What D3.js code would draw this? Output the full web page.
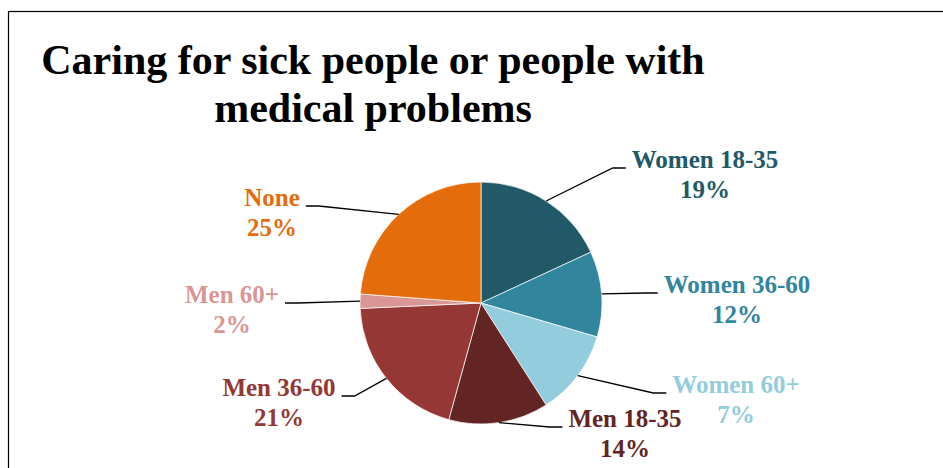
<!doctype HTML>
<html>
<head>
    <style>
        body { margin: 0; background: #fff; }
        .lbl { font-family: "Liberation Serif", "Times New Roman", serif; font-weight: bold; font-size: 25px; }
    </style>
    <script src="https://d3js.org/d3.v7.min.js"></script>
</head>
<body>
<div id="pieChart"></div>
<script>

    // data (slice sizes, and the label text shown)
    var groups = ["Women 18-35", "Women 36-60", "Women 60+", "Men 18-35", "Men 36-60", "Men 60+", "None"];
    var values = [19, 12, 12, 14, 21, 2, 25];
    var pctLabels = ["19%", "12%", "7%", "14%", "21%", "2%", "25%"];
    var colors = ["#215968", "#31859C", "#93CDDD", "#632523", "#953735", "#D99694", "#E46C0A"];

    // where the labels sit (label centre, first baseline)
    var labelPos = [[705, 168], [737, 293], [736, 393], [625, 427], [279, 396], [232, 303], [272, 206]];

    var canvasWidth = 943;
    var canvasHeight = 468;
    var cx = 481, cy = 303, radius = 121;

    var svg = d3.select("#pieChart").append("svg")
        .attr("width", canvasWidth)
        .attr("height", canvasHeight);

    // chart frame (runs off the right and bottom)
    svg.append("rect")
        .attr("x", 8.5)
        .attr("y", 11.5)
        .attr("width", 1000)
        .attr("height", 500)
        .attr("fill", "none")
        .attr("stroke", "black")
        .attr("stroke-width", 1.2);

    // title
    var title = svg.append("text")
        .attr("text-anchor", "middle")
        .attr("font-family", "Liberation Serif, Times New Roman, serif")
        .attr("font-weight", "bold")
        .attr("font-size", "42px")
        .attr("fill", "black");
    title.append("tspan").attr("x", 373).attr("y", 74).text("Caring for sick people or people with");
    title.append("tspan").attr("x", 373).attr("y", 122).text("medical problems");

    var data = groups.map(function(g, i) { return {group: g, value: values[i], label: pctLabels[i], color: colors[i], pos: labelPos[i]}; });

    var pie = d3.pie().sort(null).value(function(d) { return d.value; });
    var arc = d3.arc().innerRadius(0).outerRadius(radius);
    var edge = d3.arc().innerRadius(radius).outerRadius(radius);

    var g = svg.append("g").attr("transform", "translate(" + cx + "," + cy + ")");
    var arcs = pie(data);

    g.selectAll("path")
        .data(arcs)
        .join("path")
        .attr("d", arc)
        .attr("fill", function(d) { return d.data.color; })
        .attr("stroke", "white")
        .attr("stroke-width", 0.7);

    // labels
    var labels = svg.append("g").selectAll("text")
        .data(arcs)
        .join("text")
        .attr("class", "lbl")
        .attr("text-anchor", "middle")
        .attr("fill", function(d) { return d.data.color; });

    labels.append("tspan")
        .attr("x", function(d) { return d.data.pos[0]; })
        .attr("y", function(d) { return d.data.pos[1]; })
        .text(function(d) { return d.data.group; });
    labels.append("tspan")
        .attr("x", function(d) { return d.data.pos[0]; })
        .attr("y", function(d) { return d.data.pos[1] + 30; })
        .text(function(d) { return d.data.label; });

    // leader lines: pie edge -> bend -> short horizontal into the label
    labels.each(function(d) {
        var w = this.firstChild.getComputedTextLength();
        var right = d.data.pos[0] > cx;
        var ly = d.data.pos[1];
        var endX = right ? d.data.pos[0] - w / 2 - 6 : d.data.pos[0] + w / 2 + 6;
        var bendX = right ? endX - 13 : endX + 13;
        var c = edge.centroid(d);
        svg.append("polyline")
            .attr("points", [[cx + c[0], cy + c[1]], [bendX, ly], [endX, ly]].map(function(p) { return p.join(","); }).join(" "))
            .attr("fill", "none")
            .attr("stroke", "black")
            .attr("stroke-width", 1.3);
    });

</script>
</body>
</html>
